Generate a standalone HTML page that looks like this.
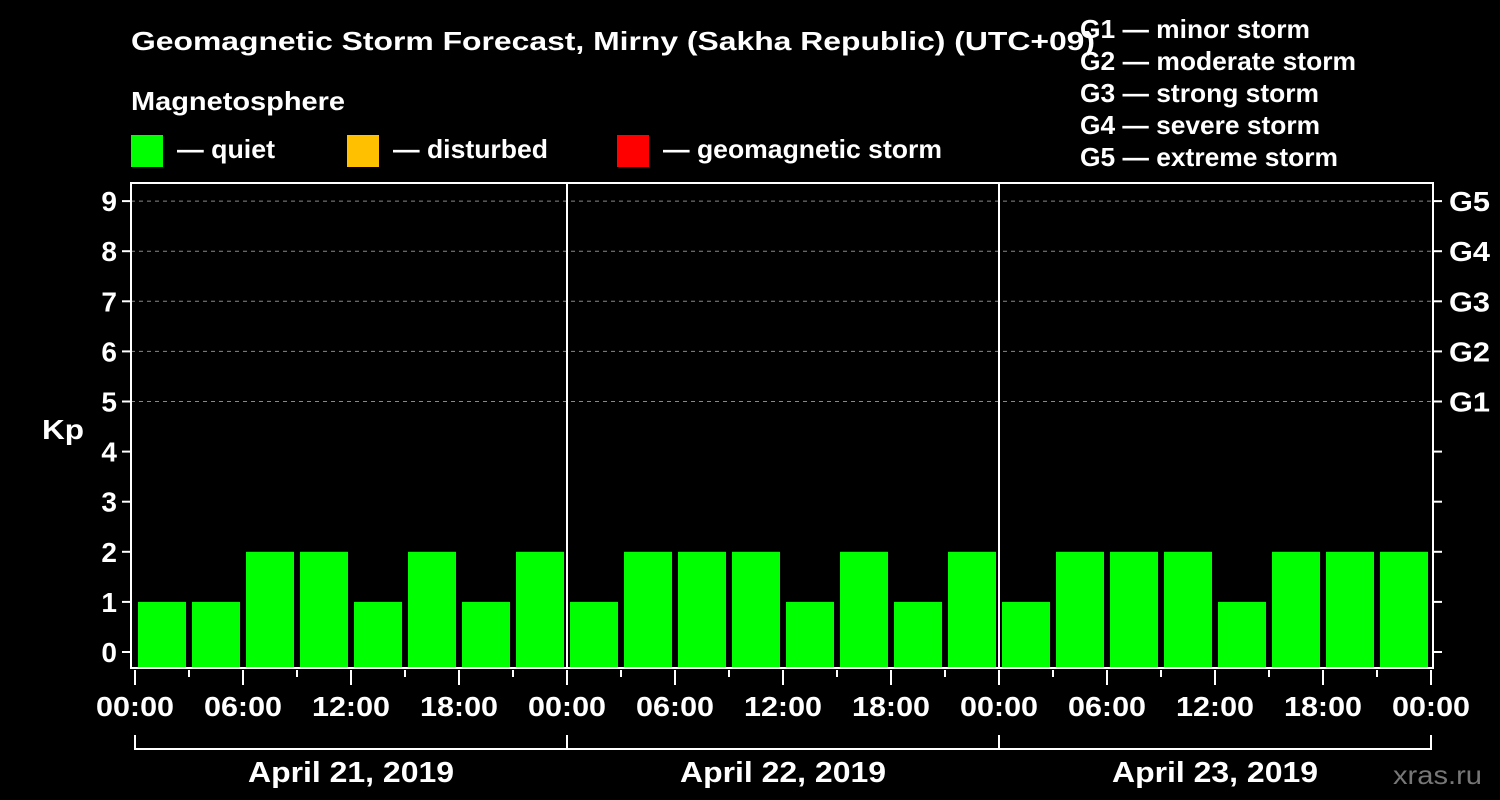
<!DOCTYPE html>
<html><head><meta charset="utf-8"><style>
body{margin:0;background:#000;}
svg{display:block;font-family:"Liberation Sans",Arial,sans-serif;font-weight:bold;}
</style></head><body>
<svg width="1500" height="800" viewBox="0 0 1500 800">
<rect width="1500" height="800" fill="#000"/>
<text x="131" y="50" fill="#fff" font-size="26" textLength="964" lengthAdjust="spacingAndGlyphs">Geomagnetic Storm Forecast, Mirny (Sakha Republic) (UTC+09)</text>
<text x="131" y="110" fill="#fff" font-size="26" textLength="214" lengthAdjust="spacingAndGlyphs">Magnetosphere</text>
<g><rect x="131" y="135" width="32" height="32" fill="#00ff00"/><text x="177" y="158" fill="#fff" font-size="26" textLength="98" lengthAdjust="spacingAndGlyphs">— quiet</text></g>
<g><rect x="347" y="135" width="32" height="32" fill="#ffc000"/><text x="393" y="158" fill="#fff" font-size="26" textLength="155" lengthAdjust="spacingAndGlyphs">— disturbed</text></g>
<g><rect x="617" y="135" width="32" height="32" fill="#ff0000"/><text x="663" y="158" fill="#fff" font-size="26" textLength="279" lengthAdjust="spacingAndGlyphs">— geomagnetic storm</text></g>
<g fill="#fff" font-size="26">
<text x="1080" y="38" textLength="230" lengthAdjust="spacingAndGlyphs">G1 — minor storm</text>
<text x="1080" y="70" textLength="276" lengthAdjust="spacingAndGlyphs">G2 — moderate storm</text>
<text x="1080" y="102" textLength="239" lengthAdjust="spacingAndGlyphs">G3 — strong storm</text>
<text x="1080" y="134" textLength="240" lengthAdjust="spacingAndGlyphs">G4 — severe storm</text>
<text x="1080" y="166" textLength="258" lengthAdjust="spacingAndGlyphs">G5 — extreme storm</text>
</g>
<text x="42" y="439" fill="#fff" font-size="28" textLength="42" lengthAdjust="spacingAndGlyphs">Kp</text>
<text x="1393" y="784" fill="#777" font-size="26" font-weight="normal" textLength="89" lengthAdjust="spacingAndGlyphs">xras.ru</text>
<g id="grid"></g><g id="bars"></g><g id="axes"></g>
</svg>
<script>
const kpValues=[1,1,2,2,1,2,1,2, 1,2,2,2,1,2,1,2, 1,2,2,2,1,2,2,2];
const dayLabels=["April 21, 2019","April 22, 2019","April 23, 2019"];
const hourLabels=["00:00","06:00","12:00","18:00"];
const yTicks=[0,1,2,3,4,5,6,7,8,9];
const gLabels=["G1","G2","G3","G4","G5"];
const NS="http://www.w3.org/2000/svg";
const L=131,R=1433,T=183,B=668,X0=135,slot=54;
const y=v=>652-v*50.1;
const x=i=>X0+i*slot;
function mk(p,tag,a){const e=document.createElementNS(NS,tag);for(const k in a)e.setAttribute(k,a[k]);p.appendChild(e);return e;}
const grid=document.getElementById('grid'),bars=document.getElementById('bars'),ax=document.getElementById('axes');
for(let v=5;v<=9;v++){const l=mk(grid,'line',{x1:L,x2:R,y1:y(v),y2:y(v),stroke:'#888','stroke-dasharray':'4,4','stroke-width':1});
}
kpValues.forEach((v,i)=>{const c=v>=5?'#ff0000':(v>=4?'#ffc000':'#00ff00');
const r=mk(bars,'rect',{x:x(i)+3,y:y(v),width:48,height:B-1-y(v),fill:c});
});
const frame=mk(ax,'rect',{x:L,y:T,width:R-L,height:B-T,fill:'none',stroke:'#fff','stroke-width':2});

for(let d=1;d<dayLabels.length;d++){const l=mk(ax,'line',{x1:x(d*8),x2:x(d*8),y1:T,y2:B,stroke:'#fff','stroke-width':2});
}
yTicks.forEach(v=>{mk(ax,'line',{x1:L-9,x2:L,y1:y(v),y2:y(v),stroke:'#fff','stroke-width':2});
mk(ax,'line',{x1:R,x2:R+9,y1:y(v),y2:y(v),stroke:'#fff','stroke-width':2});
const t=mk(ax,'text',{x:L-14,y:y(v)+10,'text-anchor':'end',fill:'#fff','font-size':28});t.textContent=v;
});
gLabels.forEach((g,i)=>{const t=mk(ax,'text',{x:1449,y:y(5+i)+10,fill:'#fff','font-size':28,textLength:41,lengthAdjust:'spacingAndGlyphs'});t.textContent=g;
});
for(let i=0;i<=kpValues.length;i++){const major=i%2==0;
mk(ax,'line',{x1:x(i),x2:x(i),y1:B+2,y2:major?B+17:B+9,stroke:'#fff','stroke-width':2});
if(major){const t=mk(ax,'text',{x:x(i),y:716,'text-anchor':'middle',fill:'#fff','font-size':28,textLength:78,lengthAdjust:'spacingAndGlyphs'});
t.textContent=hourLabels[(i/2)%4];}}
dayLabels.forEach((d,k)=>{const a=x(k*8),b=x(k*8+8);
mk(ax,'path',{d:`M${a},735 V749 H${b} V735`,stroke:'#fff','stroke-width':2,fill:'none'});
const t=mk(ax,'text',{x:(a+b)/2,y:782,'text-anchor':'middle',fill:'#fff','font-size':29,textLength:206,lengthAdjust:'spacingAndGlyphs'});t.textContent=d;
});
</script>
</body></html>
